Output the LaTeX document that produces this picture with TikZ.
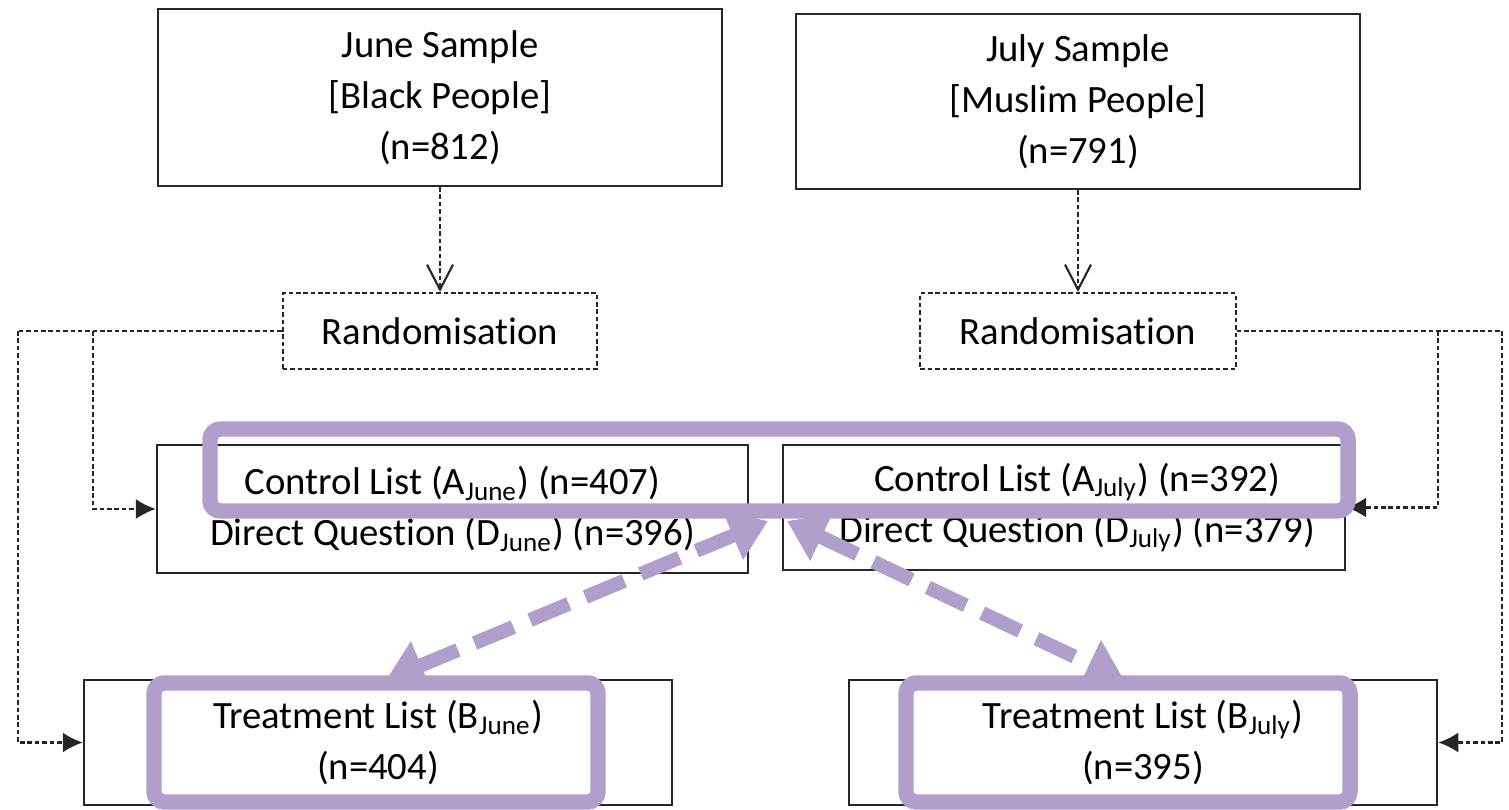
\documentclass[tikz,border=0pt]{standalone}
\usepackage{fontspec}
\setmainfont{Carlito}[Ligatures=NoCommon]
\usetikzlibrary{arrows.meta}
\definecolor{lilas}{RGB}{176,159,202}
\tikzset{
  caixa/.style={draw=black!85, line width=0.6pt, align=center, inner sep=0pt},
  tracejado/.style={draw=black!85, line width=0.6pt, dash pattern=on 1.3pt off 0.8pt},
  destaque/.style={draw=lilas, line width=4.4pt, rounded corners=3pt},
  ligacao/.style={lilas, line width=4pt, dash pattern=on 0.42cm off 0.18cm,
    {Triangle[length=0.38cm,width=0.5cm]}-{Triangle[length=0.38cm,width=0.5cm]}}
}
\begin{document}
\begin{tikzpicture}[x=0.01cm,y=-0.01cm,font=\fontsize{11}{14.5}\selectfont]
\useasboundingbox (0,0) rectangle (1509,809);

% amostras
\node[caixa, minimum width=5.64cm, minimum height=1.77cm] (junesample) at (440,97.5)
  {June Sample\\{}[Black People]\\(n=812)};
\node[caixa, minimum width=5.64cm, minimum height=1.75cm] (julysample) at (1078,101.5)
  {July Sample\\{}[Muslim People]\\(n=791)};

% randomização
\node[caixa, tracejado, minimum width=3.14cm, minimum height=0.76cm] (randjune) at (440,331) {Randomisation};
\node[caixa, tracejado, minimum width=3.15cm, minimum height=0.76cm] (randjuly) at (1078,331) {Randomisation};

% listas de controle
\node[caixa, minimum width=5.91cm, minimum height=1.28cm] (ctrljune) at (452.5,509)
  {Control List (A\textsubscript{June}) (n=407)\\Direct Question (D\textsubscript{June}) (n=396)};
\node[caixa, minimum width=5.62cm, minimum height=1.25cm] (ctrljuly) at (1064,507.5)
  {\hspace*{0.26cm}Control List (A\textsubscript{July}) (n=392)\\\hspace*{0.26cm}Direct Question (D\textsubscript{July}) (n=379)};

% listas de tratamento
\node[caixa, minimum width=5.88cm, minimum height=1.25cm] (treatjune) at (378,742.5)
  {Treatment List (B\textsubscript{June})\\(n=404)};
\node[caixa, minimum width=5.88cm, minimum height=1.25cm] (treatjuly) at (1143,742.5)
  {Treatment List (B\textsubscript{July})\\(n=395)};

% setas tracejadas
\draw[tracejado, -{Straight Barb[length=2.5mm,width=2.6mm]}] (junesample.south) -- (randjune.north);
\draw[tracejado, -{Straight Barb[length=2.5mm,width=2.6mm]}] (julysample.south) -- (randjuly.north);

\coordinate (esqfora) at (18,331);
\coordinate (esqdentro) at (93,331);
\coordinate (dirfora) at (1502,331);
\coordinate (dirdentro) at (1438,331);

\draw[tracejado] (randjune.west) -- (esqfora);
\draw[tracejado, -{Latex[length=2mm,width=2mm]}] (esqfora) |- (treatjune.west);
\draw[tracejado, -{Latex[length=2mm,width=2mm]}] (esqdentro) |- (ctrljune.west);
\draw[tracejado] (randjuly.east) -- (dirfora);
\draw[tracejado, -{Latex[length=2mm,width=2mm]}] (dirfora) |- (treatjuly.east);
\draw[tracejado, -{Latex[length=2mm,width=2mm]}] (dirdentro) |- (ctrljuly.east);

% destaques
\draw[destaque] (210,429) rectangle (1348,511);
\foreach \x in {154, 906} {
  \draw[destaque] (\x,683) rectangle (\x+444,802);
}

% comparações
\coordinate (topoesq) at (768,521);
\coordinate (topodir) at (787,521);
\coordinate (baixoesq) at (386,680);
\coordinate (baixodir) at (1124,680);
\draw[ligacao] (topoesq) -- (baixoesq);
\draw[ligacao] (topodir) -- (baixodir);

\end{tikzpicture}
\end{document}
